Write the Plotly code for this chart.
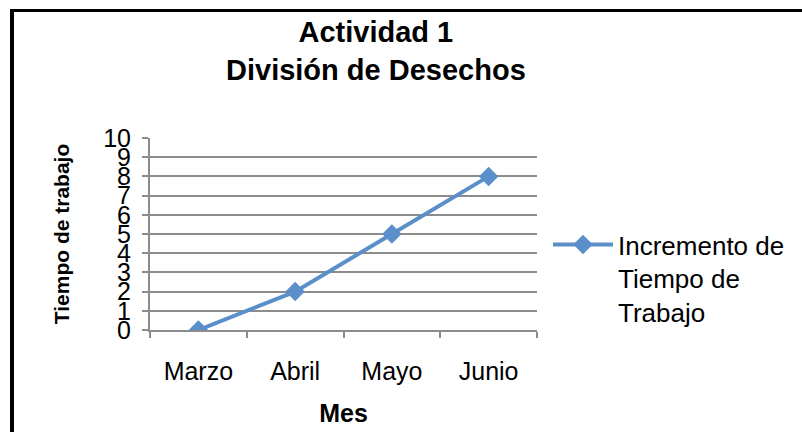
import plotly.graph_objects as go

meses = ["Marzo", "Abril", "Mayo", "Junio"]
incremento = [0, 2, 5, 8]
serie_nombre = "Incremento de<br>Tiempo de<br>Trabajo"
titulo = "<b>Actividad 1<br>División de Desechos</b>"
titulo_x = "<b>Mes</b>"
titulo_y = "<b>Tiempo de trabajo</b>"

W, H = 802, 432
L, R, T, B = 150, 265, 138, 102
pw, ph = W - L - R, H - T - B

def px_x(p):
    return (p - L) / pw

def px_y(p):
    return (H - B - p) / ph

FONT = "Liberation Sans, Arial, sans-serif"
BLUE = "#5B8FC9"
GRAY = "#8C8C8C"

fig = go.Figure()
fig.add_trace(go.Scatter(
    x=meses, y=incremento, name=serie_nombre, mode="lines+markers",
    line=dict(color=BLUE, width=4),
    marker=dict(symbol="diamond", size=15, color=BLUE),
))

fig.update_layout(
    width=W, height=H,
    margin=dict(l=L, r=R, t=T, b=B, autoexpand=False),
    paper_bgcolor="white", plot_bgcolor="white",
    font=dict(family=FONT, color="black", size=24),
    showlegend=True,
    legend=dict(x=px_x(548), xanchor="left", y=px_y(221), yanchor="top",
                font=dict(size=26, family=FONT), valign="top",
                itemwidth=60, bgcolor="rgba(0,0,0,0)"),
    xaxis=dict(type="category", range=[-0.5, 3.5], tickson="boundaries",
               ticks="outside", ticklen=6, tickwidth=2, tickcolor=GRAY,
               showline=True, linecolor=GRAY, linewidth=2, showgrid=False,
               tickfont=dict(size=25), ticklabelstandoff=18,
               title=dict(text=titulo_x, font=dict(size=25), standoff=20)),
    yaxis=dict(range=[0, 10], dtick=1, tick0=0, showgrid=True, gridcolor=GRAY,
               gridwidth=2, zeroline=False, showline=True, linecolor=GRAY,
               linewidth=2, ticks="outside", ticklen=6, tickwidth=2,
               tickcolor=GRAY, tickfont=dict(size=25), ticklabelstandoff=6,
               title=dict(text=titulo_y, font=dict(size=21), standoff=28)),
    annotations=[
        dict(text=titulo, xref="paper", yref="paper", x=px_x(376), y=px_y(14),
             xanchor="center", yanchor="top", showarrow=False,
             font=dict(size=29, family=FONT, color="black")),
    ],
    shapes=[
        dict(type="line", xref="paper", yref="paper",
             x0=px_x(12), x1=px_x(12), y0=px_y(9), y1=px_y(440),
             line=dict(color="black", width=4)),
        dict(type="line", xref="paper", yref="paper",
             x0=px_x(10), x1=px_x(810), y0=px_y(10.5), y1=px_y(10.5),
             line=dict(color="black", width=3)),
    ],
)

fig.write_html("out.html", config={"displayModeBar": False},
               post_script="document.body.style.margin='0';")
